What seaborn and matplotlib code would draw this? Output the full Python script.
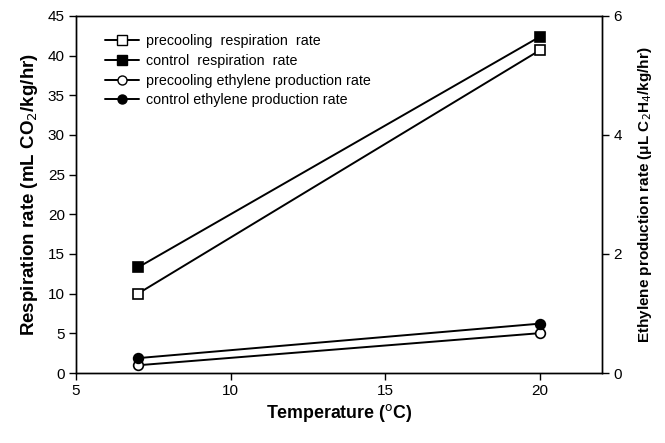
import matplotlib
matplotlib.use("Agg")
import matplotlib.pyplot as plt
import seaborn as sns
import pandas as pd
from matplotlib.lines import Line2D

sns.set_style("ticks")
plt.rcParams['font.family'] = ['Liberation Sans', 'DejaVu Sans']
plt.rcParams.update({'text.color': 'black', 'axes.labelcolor': 'black',
                     'xtick.color': 'black', 'ytick.color': 'black',
                     'axes.edgecolor': 'black'})

temperature = [7, 20]
pre_resp = [10.0, 40.7]
ctrl_resp = [13.3, 42.4]
pre_eth = [0.13, 0.67]
ctrl_eth = [0.25, 0.83]

fig = plt.figure(figsize=(6.65, 4.43), dpi=100)
ax = fig.add_axes([0.1143, 0.158, 0.791, 0.806])
ax2 = ax.twinx()

mk = dict(color='black', linewidth=1.4, markersize=7, markeredgecolor='black', markeredgewidth=1.2)

df1 = pd.DataFrame({'T': temperature, 'v': pre_resp})
df2 = pd.DataFrame({'T': temperature, 'v': ctrl_resp})
df3 = pd.DataFrame({'T': temperature, 'v': pre_eth})
df4 = pd.DataFrame({'T': temperature, 'v': ctrl_eth})

sns.lineplot(data=df1, x='T', y='v', ax=ax, marker='s', markerfacecolor='white', **mk)
sns.lineplot(data=df2, x='T', y='v', ax=ax, marker='s', markerfacecolor='black', **mk)
sns.lineplot(data=df3, x='T', y='v', ax=ax2, marker='o', markerfacecolor='white', **mk)
sns.lineplot(data=df4, x='T', y='v', ax=ax2, marker='o', markerfacecolor='black', **mk)

ax.set_xlim(5, 22)
ax.set_ylim(0, 45)
ax2.set_ylim(0, 6)
ax.set_xticks([5, 10, 15, 20])
ax.set_yticks(range(0, 46, 5))
ax2.set_yticks([0, 2, 4, 6])

for a in (ax, ax2):
    a.tick_params(labelsize=11, direction='out', length=5, width=1, pad=3,
                  colors='black', labelcolor='black')
    for s in a.spines.values():
        s.set_linewidth(1.0)
        s.set_color('black')

ax.set_xlabel('Temperature ($^{\\mathrm{o}}$C)', fontsize=12.8, fontweight='bold', labelpad=3, color='black')
ax.set_ylabel('Respiration rate (mL CO$_2$/kg/hr)', fontsize=13.5, fontweight='bold', labelpad=6, color='black')
ax2.set_ylabel('Ethylene production rate (\u03bcL C$_2$H$_4$/kg/hr)', fontsize=11, fontweight='bold', labelpad=10, color='black')

handles = [
    Line2D([], [], color='black', marker='s', markerfacecolor='white', markeredgecolor='black', markersize=6.5, linewidth=1.4),
    Line2D([], [], color='black', marker='s', markerfacecolor='black', markeredgecolor='black', markersize=6.5, linewidth=1.4),
    Line2D([], [], color='black', marker='o', markerfacecolor='white', markeredgecolor='black', markersize=6.5, linewidth=1.4),
    Line2D([], [], color='black', marker='o', markerfacecolor='black', markeredgecolor='black', markersize=6.5, linewidth=1.4),
]
labels = ['precooling  respiration  rate', 'control  respiration  rate',
          'precooling ethylene production rate', 'control ethylene production rate']
leg = ax.legend(handles, labels, loc='upper left', bbox_to_anchor=(0.03, 0.985), frameon=False,
                fontsize=10.3, handlelength=2.4, labelspacing=0.4, handletextpad=0.5)
for t in leg.get_texts():
    t.set_color('black')

fig.savefig('out.png', dpi=100)
